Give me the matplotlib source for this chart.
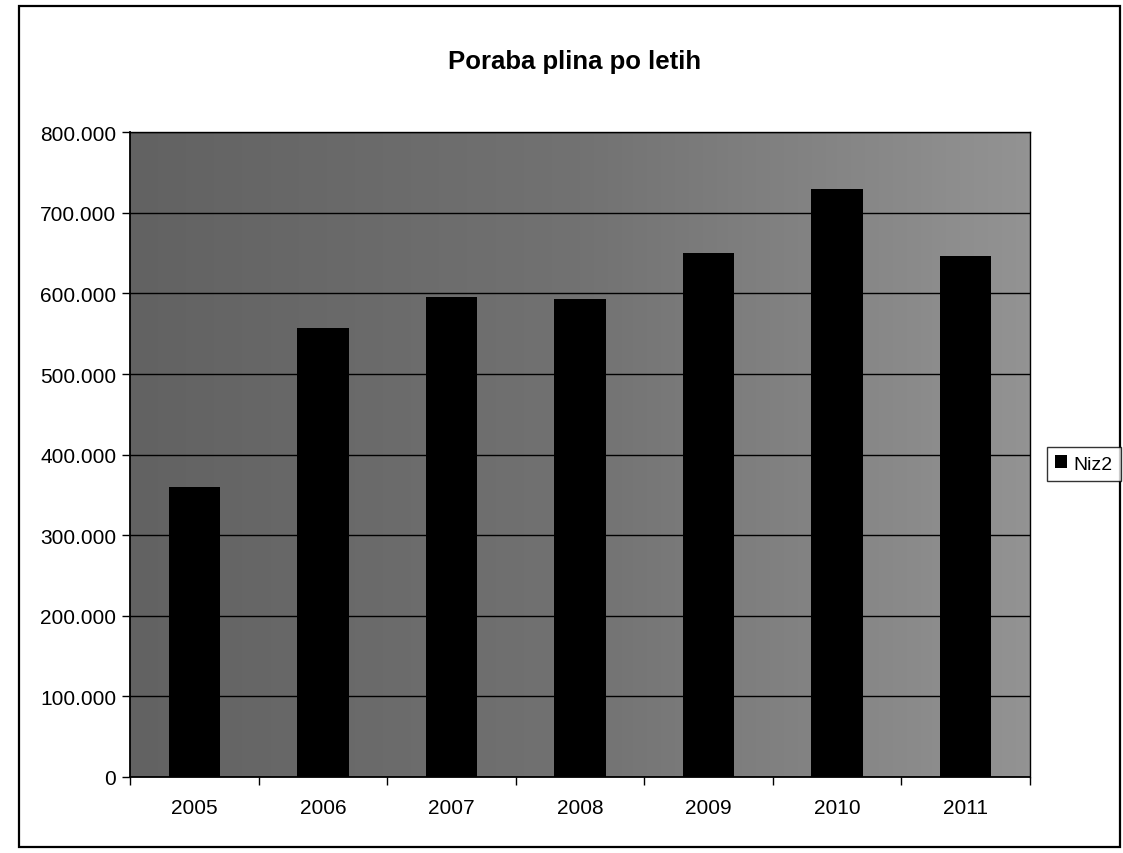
import matplotlib
matplotlib.use("Agg")
import matplotlib.pyplot as plt
import numpy as np
from matplotlib.ticker import FuncFormatter, MultipleLocator, FixedLocator
from matplotlib.patches import Rectangle
from matplotlib.colors import LinearSegmentedColormap

years = ["2005", "2006", "2007", "2008", "2009", "2010", "2011"]
values = [360000, 557000, 595000, 593000, 650000, 730000, 647000]
series_name = "Niz2"
title = "Poraba plina po letih"

plt.rcParams['font.family'] = ['Liberation Sans', 'DejaVu Sans']

fig = plt.figure(figsize=(11.23, 8.54), dpi=100)
fig.patch.set_facecolor("white")

# outer chart border
fig.add_artist(Rectangle((0.017, 0.007), 0.98, 0.985, transform=fig.transFigure,
                         fill=False, edgecolor="black", linewidth=1.6))

ax = fig.add_axes([0.1158, 0.089, 0.8014, 0.755])

# gray plot area (gradient, darker on the left)
cmap = LinearSegmentedColormap.from_list("g", ["#626262", "#727272", "#939393"])
grad = np.linspace(0, 1, 256).reshape(1, -1)
ax.imshow(grad, aspect="auto", cmap=cmap, extent=[0, 1, 0, 1],
          transform=ax.transAxes, zorder=0)

x = np.arange(len(years))
ax.bar(x, values, width=0.4, color="black", zorder=3, label=series_name)

ax.set_xlim(-0.5, len(years) - 0.5)
ax.set_ylim(0, 800000)
ax.yaxis.set_major_locator(MultipleLocator(100000))
ax.yaxis.set_major_formatter(FuncFormatter(lambda v, p: f"{int(v):,}".replace(",", ".")))
ax.grid(axis="y", color="black", linewidth=1.0, zorder=1)
ax.set_axisbelow(False)

ax.xaxis.set_major_locator(FixedLocator(x))
ax.set_xticklabels(years)
ax.xaxis.set_minor_locator(FixedLocator(np.arange(-0.5, len(years), 1.0)))
ax.tick_params(axis="x", which="major", length=0, pad=15, labelsize=15)
ax.tick_params(axis="x", which="minor", length=6, width=1, direction="out")
ax.tick_params(axis="y", length=6, width=1, direction="out", pad=4, labelsize=15)

for s in ax.spines.values():
    s.set_color("black")
    s.set_linewidth(1.0)
ax.spines["left"].set_linewidth(1.3)
ax.spines["bottom"].set_linewidth(1.3)

fig.text(0.512, 0.927, title, ha="center", va="center", fontsize=18.5, fontweight="bold")

leg = fig.legend(loc="center left", bbox_to_anchor=(0.932, 0.4555), frameon=True,
                 fontsize=14, handlelength=0.6, handleheight=0.6, handletextpad=0.3,
                 borderpad=0.45, borderaxespad=0, fancybox=False)
leg.get_frame().set_edgecolor("black")
leg.get_frame().set_linewidth(1.0)

fig.savefig("out.png", dpi=100)
